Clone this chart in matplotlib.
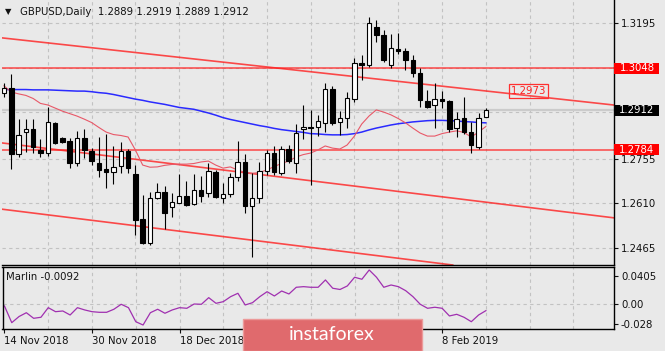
import matplotlib
matplotlib.use("Agg")
import matplotlib.pyplot as plt
from matplotlib.patches import Rectangle
from matplotlib.transforms import blended_transform_factory

plt.rcParams['font.family'] = ['DejaVu Sans']
plt.rcParams['font.size'] = 7.3

# daily candles, 14 Nov 2018 .. 18 Feb 2019
opens = [1.2967, 1.2984, 1.2770, 1.2840, 1.2851, 1.2783, 1.2774, 1.2871, 1.2821, 1.2812,
         1.2742, 1.2821, 1.2780, 1.2742, 1.2721, 1.2713, 1.2731, 1.2781, 1.2704, 1.2558,
         1.2482, 1.2626, 1.2648, 1.2599, 1.2612, 1.2635, 1.2607, 1.2653, 1.2642, 1.2713,
         1.2628, 1.2639, 1.2694, 1.2745, 1.2601, 1.2626, 1.2715, 1.2774, 1.2709, 1.2785,
         1.2742, 1.2850, 1.2859, 1.2859, 1.2871, 1.2981, 1.2873, 1.2886, 1.2948, 1.3064,
         1.3059, 1.3183, 1.3156, 1.3059, 1.3111, 1.3104, 1.3075, 1.3032, 1.2942, 1.2929,
         1.2947, 1.2943, 1.2853, 1.2888, 1.2840, 1.2794, 1.2889]
highs = [1.3000, 1.3030, 1.2883, 1.2883, 1.2883, 1.2818, 1.2923, 1.2875, 1.2825, 1.2821,
         1.2846, 1.2850, 1.2788, 1.2824, 1.2835, 1.2796, 1.2810, 1.2785, 1.2734, 1.2637,
         1.2648, 1.2676, 1.2666, 1.2644, 1.2705, 1.2683, 1.2705, 1.2699, 1.2740, 1.2718,
         1.2675, 1.2707, 1.2813, 1.2770, 1.2709, 1.2745, 1.2783, 1.2796, 1.2796, 1.2799,
         1.2867, 1.2929, 1.2913, 1.2896, 1.3001, 1.2992, 1.2909, 1.2972, 1.3082, 1.3091,
         1.3215, 1.3205, 1.3172, 1.3158, 1.3162, 1.3115, 1.3091, 1.3048, 1.2978, 1.3001,
         1.2974, 1.2945, 1.2905, 1.2956, 1.2875, 1.2902, 1.2919]
lows = [1.2955, 1.2721, 1.2759, 1.2777, 1.2774, 1.2761, 1.2763, 1.2802, 1.2805, 1.2723,
        1.2731, 1.2756, 1.2734, 1.2696, 1.2659, 1.2673, 1.2707, 1.2707, 1.2507, 1.2478,
        1.2475, 1.2624, 1.2526, 1.2566, 1.2610, 1.2601, 1.2604, 1.2615, 1.2629, 1.2627,
        1.2612, 1.2631, 1.2682, 1.2579, 1.2435, 1.2612, 1.2702, 1.2702, 1.2702, 1.2742,
        1.2707, 1.2818, 1.2669, 1.2828, 1.2841, 1.2864, 1.2832, 1.2853, 1.2940, 1.3010,
        1.3053, 1.3134, 1.3069, 1.3050, 1.3093, 1.3043, 1.3021, 1.2923, 1.2920, 1.2855,
        1.2918, 1.2842, 1.2826, 1.2834, 1.2772, 1.2786, 1.2889]
closes = [1.2983, 1.2770, 1.2832, 1.2851, 1.2794, 1.2774, 1.2875, 1.2807, 1.2810, 1.2742,
          1.2821, 1.2783, 1.2748, 1.2718, 1.2710, 1.2729, 1.2781, 1.2724, 1.2556, 1.2480,
          1.2626, 1.2648, 1.2579, 1.2613, 1.2635, 1.2604, 1.2653, 1.2634, 1.2715, 1.2629,
          1.2640, 1.2694, 1.2745, 1.2601, 1.2626, 1.2715, 1.2774, 1.2713, 1.2785, 1.2747,
          1.2837, 1.2859, 1.2855, 1.2877, 1.2981, 1.2870, 1.2886, 1.2951, 1.3064, 1.3059,
          1.3194, 1.3156, 1.3075, 1.3113, 1.3104, 1.3075, 1.3032, 1.2945, 1.2923, 1.2947,
          1.2942, 1.2851, 1.2883, 1.2840, 1.2799, 1.2886, 1.2912]

# moving averages
ma_slow = [1.2979, 1.2979, 1.2979, 1.2979, 1.2978, 1.2978, 1.2978, 1.2977, 1.2976, 1.2975,
           1.2974, 1.2974, 1.2972, 1.2969, 1.2967, 1.2963, 1.2958, 1.2953, 1.2948, 1.2944,
           1.2939, 1.2935, 1.2931, 1.2926, 1.2921, 1.2918, 1.2915, 1.2909, 1.2903, 1.2896,
           1.2888, 1.2882, 1.2877, 1.2872, 1.2867, 1.2862, 1.2858, 1.2853, 1.2849, 1.2846,
           1.2843, 1.2840, 1.2836, 1.2835, 1.2833, 1.2832, 1.2832, 1.2833, 1.2836, 1.2841,
           1.2848, 1.2854, 1.2859, 1.2864, 1.2868, 1.2871, 1.2874, 1.2876, 1.2878, 1.2879,
           1.2879, 1.2878, 1.2877, 1.2875, 1.2874, 1.2872, 1.2871]
ma_fast = [1.2991, 1.2971, 1.2965, 1.2960, 1.2950, 1.2934, 1.2929, 1.2919, 1.2909, 1.2901,
           1.2893, 1.2883, 1.2872, 1.2856, 1.2841, 1.2833, 1.2830, 1.2825, 1.2783, 1.2734,
           1.2727, 1.2728, 1.2733, 1.2736, 1.2737, 1.2737, 1.2739, 1.2744, 1.2747, 1.2734,
           1.2724, 1.2728, 1.2718, 1.2710, 1.2707, 1.2710, 1.2718, 1.2729, 1.2739, 1.2747,
           1.2760, 1.2768, 1.2773, 1.2783, 1.2796, 1.2789, 1.2786, 1.2799, 1.2828, 1.2867,
           1.2893, 1.2913, 1.2906, 1.2897, 1.2885, 1.2871, 1.2854, 1.2838, 1.2828, 1.2828,
           1.2836, 1.2841, 1.2845, 1.2840, 1.2825, 1.2841, 1.2859]

marlin = [-0.0025, -0.0266, -0.0177, -0.0122, -0.0203, -0.0188, -0.0049, -0.0107, -0.0097, -0.0155,
          -0.0049, -0.0082, -0.0107, -0.0116, -0.0116, -0.0072, 0.0000, -0.0049, -0.0252, -0.0300,
          -0.0122, -0.0072, -0.0130, -0.0082, -0.0049, -0.0058, 0.0004, 0.0000, 0.0096, 0.0014,
          0.0038, 0.0110, 0.0159, -0.0010, 0.0023, 0.0110, 0.0182, 0.0120, 0.0192, 0.0149,
          0.0246, 0.0255, 0.0246, 0.0246, 0.0352, 0.0232, 0.0214, 0.0265, 0.0391, 0.0362,
          0.0496, 0.0391, 0.0246, 0.0279, 0.0255, 0.0197, 0.0110, 0.0000, -0.0058, -0.0043,
          -0.0058, -0.0169, -0.0145, -0.0188, -0.0252, -0.0155, -0.0092]

# drawn objects: trend lines (two anchor points: bar, price) and levels
upper_line = [(0, 1.3146), (80, 1.2938)]
middle_line = [(0, 1.2805), (80, 1.2573)]
lower_line = [(0, 1.2590), (60, 1.2414)]
levels = [1.3048, 1.2784]
last_price = 1.2912

price_ticks = [1.3195, 1.3050, 1.2905, 1.2755, 1.2610, 1.2465]
price_labels = ['1.3195', '', '', '1.2755', '1.2610', '1.2465']
marlin_ticks = [0.0405, 0.0, -0.028]
marlin_labels = ['0.0405', '0.00', '-0.028']
date_bars = [0, 12, 24, 60]
date_labels = ['14 Nov 2018', '30 Nov 2018', '18 Dec 2018', '8 Feb 2019']

bg = '#e9e9e9'
grid_c = '#c2c2c2'

fig = plt.figure(figsize=(6.65, 3.51), dpi=100, facecolor=bg)
ax = fig.add_axes([2 / 665, 86 / 351, 612 / 665, 265 / 351], facecolor=bg)
ax2 = fig.add_axes([2.5 / 665, 21.7 / 351, 611.5 / 665, 62 / 351], facecolor=bg)

xlim = (-0.27, 83.56)
ax.set_xlim(*xlim)
ax.set_ylim(1.24097, 1.32696)
ax2.set_xlim(*xlim)
ax2.set_ylim(-0.0362, 0.0535)

# grid
for b in range(6, 84, 6):
    ax.axvline(b, color=grid_c, lw=0.8, ls=(0, (3, 3)), zorder=0)
    ax2.axvline(b, color=grid_c, lw=0.8, ls=(0, (3, 3)), zorder=0)
for t in price_ticks:
    ax.axhline(t, color=grid_c, lw=0.8, ls=(0, (3, 3)), zorder=0)
ax2.axhline(0, color=grid_c, lw=0.8, ls=(0, (3, 3)), zorder=0)

# current price line
ax.axhline(last_price, color='#cbcbcb', lw=1.6, zorder=0.5)

# levels and trend lines
for lv in levels:
    ax.axhline(lv, color='#ff2a2a', lw=1.1, alpha=0.85, zorder=1)
for ln in (upper_line, middle_line, lower_line):
    ax.axline(ln[0], ln[1], color='#ff2020', lw=1.2, alpha=0.8, zorder=1)

# moving averages
bars = list(range(len(closes)))
ax.plot(bars, ma_slow, color='#2a2aff', lw=1.1, zorder=2)
ax.plot(bars, ma_fast, color='#e85868', lw=0.8, zorder=2)

# candles
for i in bars:
    o, h, l, c = opens[i], highs[i], lows[i], closes[i]
    ax.vlines(i, l, h, color='black', lw=0.8, zorder=3)
    fc = 'white' if c >= o else 'black'
    ax.bar(i, abs(c - o), bottom=min(o, c), width=0.62, color=fc,
           edgecolor='black', linewidth=0.8, zorder=4)

# axes styling
for s in ('left', 'top'):
    ax.spines[s].set_visible(False)
ax.spines['right'].set_linewidth(1.0)
ax.spines['bottom'].set_linewidth(1.0)
ax.set_xticks([])
ax.yaxis.tick_right()
ax.set_yticks(price_ticks)
ax.set_yticklabels(price_labels)
ax.tick_params(axis='y', length=3, width=0.8, pad=2, colors='#111111')

ax2.plot(bars, marlin, color='#a030b0', lw=0.9)
for s in ax2.spines.values():
    s.set_linewidth(1.0)
ax2.yaxis.tick_right()
ax2.set_yticks(marlin_ticks)
ax2.set_yticklabels(marlin_labels)
ax2.tick_params(axis='y', length=3, width=0.8, pad=2, colors='#111111')
ax2.set_xticks(date_bars)
ax2.set_xticklabels(date_labels, ha='left')
ax2.tick_params(axis='x', length=3, width=0.8, pad=2, colors='#111111')
ax2.text(0.006, 0.84, 'Marlin -0.0092', transform=ax2.transAxes, va='center', color='#111111')

# price tags on the right scale
trans = blended_transform_factory(ax.transAxes, ax.transData)
half = 0.00178
tags = [(1.3048, '#ff0000', 'white'), (last_price, 'black', 'white'), (1.2784, '#ff0000', 'white')]
for p, fc, tc in tags:
    ax.add_patch(Rectangle((1.0, p - half), 45 / 612, 2 * half, transform=trans,
                           facecolor=fc, edgecolor='none', clip_on=False, zorder=10))
    ax.text(1.0 + 23 / 612, p, '%.4f' % p, transform=trans, ha='center', va='center',
            color=tc, zorder=11, clip_on=False)

# trend line label
ax.text(71.85, 1.2973, '1.2973', color='#ff2020', ha='center', va='center', zorder=6,
        bbox=dict(boxstyle='square,pad=0.2', fc='none', ec='#ff3030', lw=0.9))

# header
fig.text(5 / 665, 1 - 12 / 351, '\u25bc', fontsize=6, va='center', color='#111111')
fig.text(20 / 665, 1 - 12 / 351, 'GBPUSD,Daily  1.2889 1.2919 1.2889 1.2912',
         va='center', color='#111111')

# watermark
fig.patches.append(Rectangle((243 / 665, 0), 179 / 665, 32 / 351, transform=fig.transFigure,
                             facecolor='#e06a6d', edgecolor='#ec9a9a', lw=1.0, zorder=20))
fig.text(332 / 665, 16 / 351, 'instaforex', color='white', fontsize=14,
         family=['Lato', 'DejaVu Sans'], ha='center', va='center', zorder=21)

fig.savefig('out.png', dpi=100, facecolor=bg)
